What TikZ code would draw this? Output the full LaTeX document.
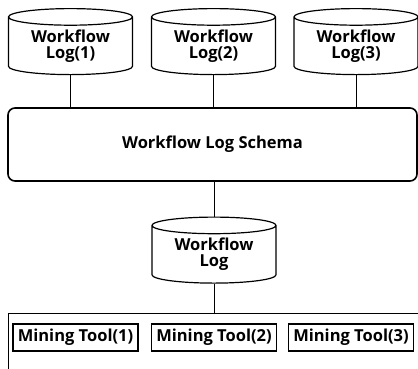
\documentclass[tikz,border=0pt]{standalone}
\usepackage{fontspec}
\setmainfont{Open Sans}
\usetikzlibrary{shapes.geometric,positioning}
\begin{document}
\begin{tikzpicture}[x=1pt,y=-1pt,
  labelfont/.style={font=\fontsize{16.5}{16}\selectfont\bfseries},
  logdb/.style={cylinder,shape border rotate=90,aspect=0.21,draw,line width=1.2pt,
    minimum width=124pt,minimum height=66pt,inner sep=0pt,align=center,labelfont},
  toolbox/.style={draw,line width=1.1pt,minimum width=125pt,minimum height=27pt,
    inner sep=0pt,labelfont},
  link/.style={line width=0.8pt}]
\clip (0,0) rectangle (418,368);
% Workflow logs at the top
\foreach \i/\xc in {1/70.5,2/213.5,3/356} {
  \node[logdb,anchor=north] (log\i) at (\xc,8) {Workflow\\Log(\i)};
}
% Common schema
\node[draw,rounded corners=7pt,line width=1.6pt,minimum width=409pt,
  minimum height=73pt,labelfont] (schema) at (212.5,144.5) {Workflow Log Schema};
% Merged log
\node[logdb,anchor=north] (mlog) at (214,216.5) {Workflow\\Log};
% Tool frame and the mining tools
\node[draw,line width=1.1pt,minimum width=430pt,minimum height=70pt,
  anchor=north west,inner sep=0pt] (frame) at (7.5,312.5) {};
\foreach \i/\xc in {1/75.5,2/214,3/351} {
  \node[toolbox] (tool\i) at (\xc,337.5) {Mining Tool(\i)};
}
% Connectors
\foreach \i in {1,2,3} {
  \draw[link] (log\i.south) -- (log\i.south |- schema.north);
}
\draw[link] (schema.south -| mlog.north) -- (mlog.north);
\draw[link] (mlog.south) -- (mlog.south |- frame.north);
\end{tikzpicture}
\end{document}
